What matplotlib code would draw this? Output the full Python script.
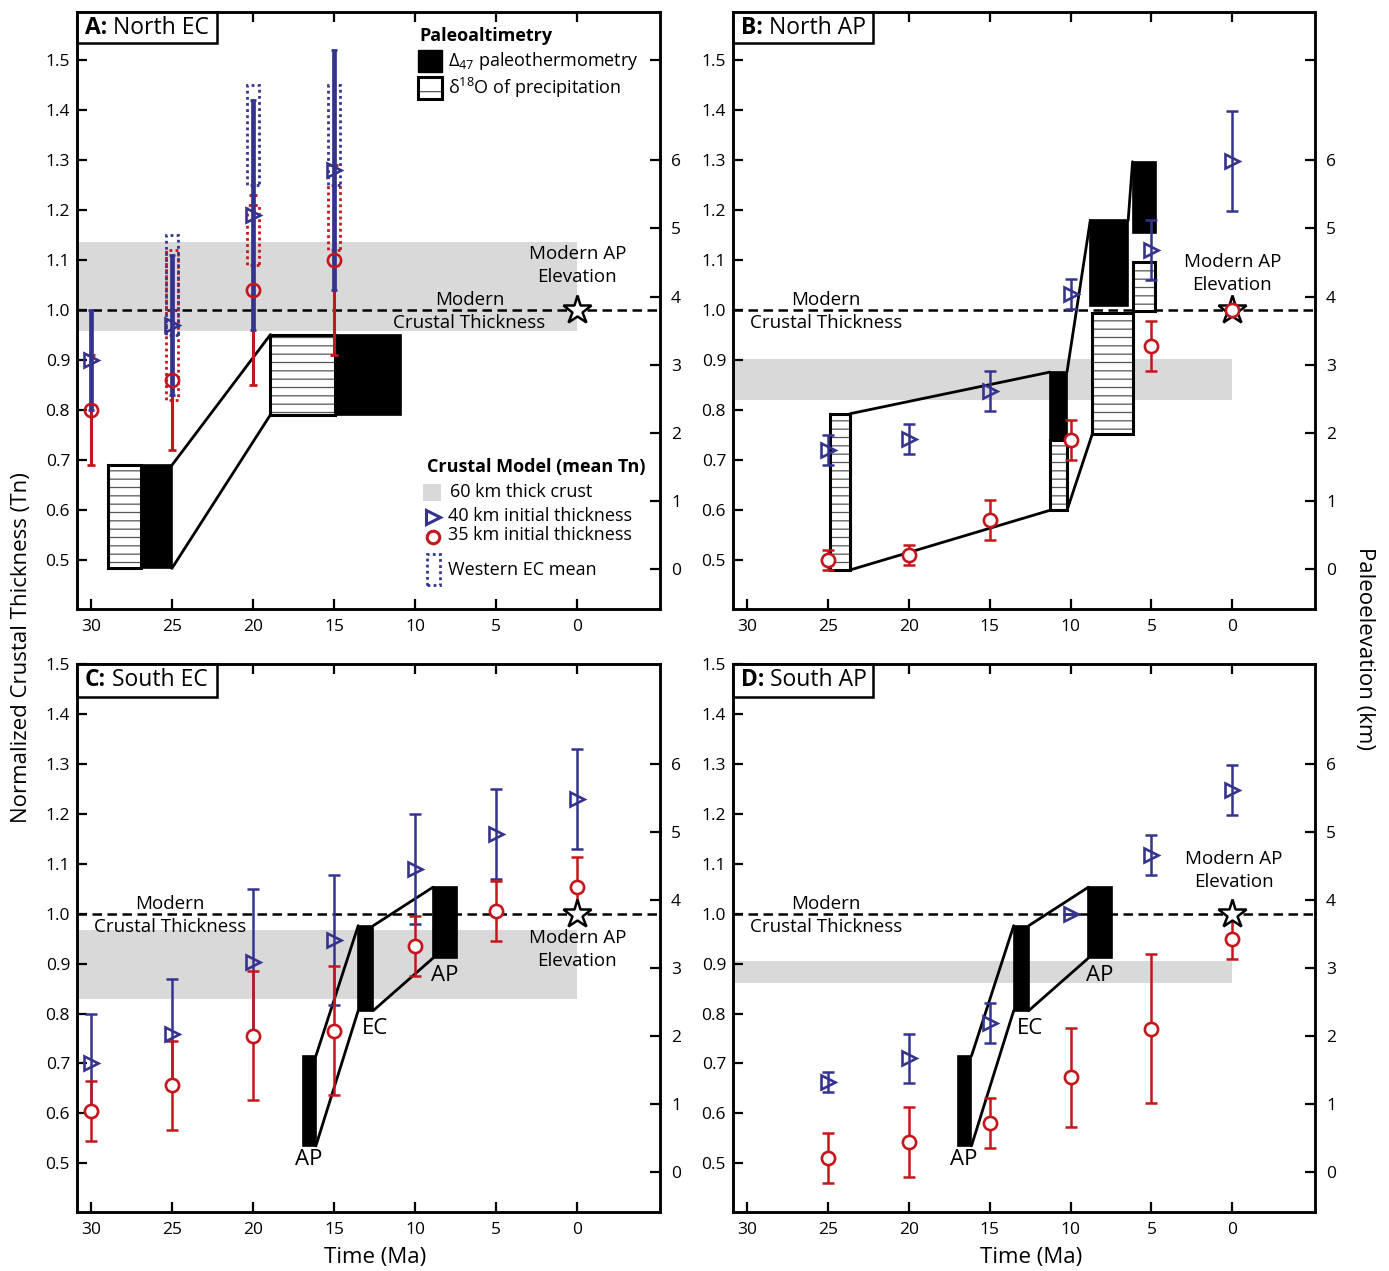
import matplotlib
matplotlib.use('Agg')
import matplotlib.pyplot as plt
from matplotlib.patches import Rectangle

plt.rcParams['font.family'] = ['Open Sans', 'DejaVu Sans']
plt.rcParams['mathtext.fontset'] = 'custom'
plt.rcParams['mathtext.rm'] = 'Open Sans'
plt.rcParams['mathtext.it'] = 'Open Sans:italic'
plt.rcParams['mathtext.bf'] = 'Open Sans:bold'
plt.rcParams['hatch.linewidth'] = 0.9

BLUE = '#34348f'
RED = '#c4161c'
GREY = '#d9d9d9'

# ---------------- data ----------------
time_ticks = [30, 25, 20, 15, 10, 5, 0]
tn_ticks = [0.5, 0.6, 0.7, 0.8, 0.9, 1.0, 1.1, 1.2, 1.3, 1.4, 1.5]
elev_ticks = [0, 1, 2, 3, 4, 5, 6]
ELEV0_TN = 0.482      # Tn at 0 km paleoelevation
KM_TN = 0.1362        # Tn per km paleoelevation
modern_tn = 1.0

# Panel A: North EC
a_t = [30, 25, 20, 15]
a_blue = [0.90, 0.97, 1.19, 1.28]
a_blue_err = [0.10, 0.14, 0.23, 0.24]
a_red = [0.80, 0.86, 1.04, 1.10]
a_red_err = [0.11, 0.14, 0.19, 0.19]
a_band = [0.959, 1.136]
a_west_t = [25, 20, 15]
a_west_blue_lo = [0.95, 1.25, 1.25]
a_west_blue_hi = [1.15, 1.45, 1.45]
a_west_red_lo = [0.82, 1.09, 1.12]
a_west_red_hi = [1.12, 1.21, 1.245]
a_box_left = [28.95, 26.9, 18.92, 14.92]
a_box_right = [26.9, 25.0, 14.92, 10.85]
a_box_lo = [0.484, 0.484, 0.791, 0.791]
a_box_hi = [0.690, 0.690, 0.951, 0.951]
a_box_kind = ['iso', 'clump', 'iso', 'clump']
a_link_t0 = [25.0, 25.0]
a_link_y0 = [0.690, 0.484]
a_link_t1 = [18.92, 18.92]
a_link_y1 = [0.951, 0.791]

# Panel B: North AP
b_t = [25, 20, 15, 10, 5, 0]
b_blue = [0.720, 0.742, 0.839, 1.031, 1.119, 1.298]
b_blue_err = [0.03, 0.03, 0.04, 0.03, 0.06, 0.10]
b_red = [0.500, 0.510, 0.580, 0.740, 0.929, 1.000]
b_red_err = [0.02, 0.02, 0.04, 0.04, 0.05, 0.0]
b_band = [0.821, 0.902]
b_box_left = [24.84, 11.28, 11.28, 8.78, 8.66, 6.17, 6.13]
b_box_right = [23.61, 10.22, 10.22, 6.44, 6.13, 4.71, 4.76]
b_box_lo = [0.481, 0.740, 0.600, 1.008, 0.752, 1.153, 0.999]
b_box_hi = [0.793, 0.876, 0.740, 1.179, 0.995, 1.296, 1.096]
b_box_kind = ['iso', 'clump', 'iso', 'clump', 'iso', 'clump', 'iso']
b_link_t0 = [23.61, 10.22, 6.44, 23.61, 10.22]
b_link_y0 = [0.793, 0.876, 1.179, 0.481, 0.600]
b_link_t1 = [11.28, 8.78, 6.17, 11.28, 8.66]
b_link_y1 = [0.876, 1.179, 1.296, 0.600, 0.752]

# Panel C: South EC
c_t = [30, 25, 20, 15, 10, 5, 0]
c_blue = [0.700, 0.760, 0.903, 0.947, 1.089, 1.159, 1.229]
c_blue_err = [0.10, 0.11, 0.146, 0.13, 0.11, 0.09, 0.10]
c_red = [0.605, 0.656, 0.756, 0.766, 0.936, 1.005, 1.054]
c_red_err = [0.06, 0.09, 0.13, 0.13, 0.06, 0.06, 0.06]
c_band = [0.829, 0.968]

# Panel D: South AP
d_t = [25, 20, 15, 10, 5, 0]
d_blue = [0.662, 0.710, 0.781, 1.000, 1.118, 1.248]
d_blue_err = [0.02, 0.05, 0.04, 0.0, 0.04, 0.05]
d_red = [0.511, 0.542, 0.581, 0.672, 0.770, 0.950]
d_red_err = [0.05, 0.07, 0.05, 0.10, 0.15, 0.04]
d_band = [0.861, 0.905]

# Panels C and D: clumped-isotope paleoaltimetry boxes
cd_box_left = [16.94, 13.51, 8.90]
cd_box_right = [16.12, 12.58, 7.41]
cd_box_lo = [0.535, 0.806, 0.911]
cd_box_hi = [0.715, 0.976, 1.053]
cd_box_kind = ['clump', 'clump', 'clump']
cd_box_names = ['AP', 'EC', 'AP']
cd_name_t = [16.57, 12.5, 8.2]
cd_name_y = [0.507, 0.771, 0.877]
cd_link_t0 = [16.12, 16.12, 12.58, 12.58]
cd_link_y0 = [0.715, 0.535, 0.976, 0.806]
cd_link_t1 = [13.51, 13.51, 8.90, 8.90]
cd_link_y1 = [0.976, 0.806, 1.053, 0.911]

# ---------------- figure ----------------
W, H = 1389, 1271
fig = plt.figure(figsize=(W / 100, H / 100), dpi=100)


def px_axes(l, t, r, b):
    return fig.add_axes([l / W, 1 - b / H, (r - l) / W, (b - t) / H])


axA = px_axes(77, 12, 660, 609)
axB = px_axes(733, 12, 1315, 609)
axC = px_axes(77, 664, 660, 1212)
axD = px_axes(733, 664, 1315, 1212)


def setup(ax, ylim, extra_tick):
    ax.set_xlim(30.85, -5.1)
    ax.set_ylim(*ylim)
    ax.set_xticks(time_ticks)
    ax.set_xticklabels([str(t) for t in time_ticks])
    ax.set_yticks(tn_ticks)
    ax.set_yticklabels(['%.1f' % v for v in tn_ticks])
    ax.tick_params(direction='in', length=7, width=1.6, top=True, right=False,
                   labelsize=12.5, pad=5)
    ax.tick_params(axis='x', pad=7)
    for s in ax.spines.values():
        s.set_linewidth(1.8)
    ax2 = ax.twinx()
    ax2.set_ylim((ylim[0] - ELEV0_TN) / KM_TN, (ylim[1] - ELEV0_TN) / KM_TN)
    ticks = list(elev_ticks)
    labels = [str(e) for e in elev_ticks]
    if extra_tick:
        ticks.append((1.5 - ELEV0_TN) / KM_TN)
        labels.append('')
    ax2.set_yticks(ticks)
    ax2.set_yticklabels(labels)
    ax2.tick_params(direction='in', length=7, width=1.6, labelsize=12.5, pad=8)
    for s in ax2.spines.values():
        s.set_linewidth(1.8)


def common(ax, band):
    ax.fill_between([31.5, 0], band[0], band[1], color=GREY, lw=0, zorder=1)
    ax.axhline(modern_tn, color='black', ls=(0, (3.8, 2.2)), lw=1.8, zorder=2)
    ax.plot([0], [modern_tn], ls='none', marker='*', ms=21, mfc='white',
            mec='black', mew=1.8, zorder=5.5)


def boxes(ax, left, right, lo, hi, kind):
    for l, r, a, b, k in zip(left, right, lo, hi, kind):
        if k == 'clump':
            ax.add_patch(Rectangle((r, a), l - r, b - a, fc='black', ec='black',
                                   lw=1.2, zorder=4))
        else:
            ax.add_patch(Rectangle((r, a), l - r, b - a, fc='white', ec='#555555',
                                   hatch='--', lw=0, zorder=4))
            ax.add_patch(Rectangle((r, a), l - r, b - a, fill=False, ec='black',
                                   lw=2.2, zorder=4.1))


def links(ax, t0, y0, t1, y1):
    for p, q, r, s in zip(t0, y0, t1, y1):
        ax.plot([p, r], [q, s], color='black', lw=2, zorder=3.5,
                solid_capstyle='round')


def series(ax, t, y, err, color, marker, lw, cap, z, mfc):
    ax.errorbar(t, y, yerr=err, fmt='none', ecolor=color, elinewidth=lw,
                capsize=cap, capthick=min(lw, 2.0), zorder=z)
    ax.plot(t, y, ls='none', marker=marker, ms=10.5 if marker == '>' else 9.5,
            mfc=mfc, mec=color, mew=1.9, zorder=z + 2)


def panel_label(ax, letter, name, w_px, h_px, aw, ah):
    ax.add_patch(Rectangle((0, 1 - h_px / ah), w_px / aw, h_px / ah,
                           transform=ax.transAxes, fc='white', ec='black',
                           lw=1.8, zorder=20, clip_on=False))
    t1 = ax.text(8 / aw, 1 - h_px / 2 / ah, letter, transform=ax.transAxes,
                 fontsize=16.5, fontweight='bold', va='center', ha='left', zorder=21)
    ax.annotate(' ' + name, xy=(1, 0), xycoords=t1, va='bottom', ha='left',
                fontsize=16.5, zorder=21)


def two_line(ax, x, y, top, bottom, fs=13.5):
    ax.text(x, y + 0.009, top, ha='center', va='baseline', fontsize=fs, zorder=7)
    ax.text(x, y - 0.008, bottom, ha='center', va='top', fontsize=fs, zorder=7)


# ---- Panel A ----
setup(axA, (0.403, 1.595), True)
common(axA, a_band)
for t, lo, hi in zip(a_west_t, a_west_red_lo, a_west_red_hi):
    axA.add_patch(Rectangle((t - 0.37, lo), 0.74, hi - lo, fill=False, ec=RED,
                            ls=(0, (1, 1.2)), lw=2, zorder=2.5))
for t, lo, hi in zip(a_west_t, a_west_blue_lo, a_west_blue_hi):
    axA.add_patch(Rectangle((t - 0.37, lo), 0.74, hi - lo, fill=False, ec=BLUE,
                            ls=(0, (1, 1.2)), lw=2, zorder=2.6))
links(axA, a_link_t0, a_link_y0, a_link_t1, a_link_y1)
boxes(axA, a_box_left, a_box_right, a_box_lo, a_box_hi, a_box_kind)
series(axA, a_t, a_red, a_red_err, RED, 'o', 2.2, 3, 5, 'none')
series(axA, a_t, a_blue, a_blue_err, BLUE, '>', 3.4, 2, 5.2, 'none')
axA.text(0, 1.089, 'Modern AP\nElevation', ha='center', va='center',
         fontsize=13.5, linespacing=1.35, zorder=7)
two_line(axA, 6.65, modern_tn, 'Modern', 'Crustal Thickness')
panel_label(axA, 'A:', 'North EC', 140, 31, 583, 597)

# Panel A legend (axes fraction)
tA = axA.transAxes
axA.text(0.588, 0.960, 'Paleoaltimetry', transform=tA, fontsize=13,
         fontweight='bold', va='center', ha='left')
axA.add_patch(Rectangle((0.585, 0.899), 0.041, 0.037, transform=tA,
                        fc='black', ec='black', lw=1))
axA.text(0.636, 0.918, 'Δ$_{47}$ paleothermometry', transform=tA,
         fontsize=13, va='center', ha='left')
axA.add_patch(Rectangle((0.585, 0.854), 0.041, 0.037, transform=tA,
                        fc='white', ec='#555555', hatch='-', lw=0))
axA.add_patch(Rectangle((0.585, 0.854), 0.041, 0.037, transform=tA,
                        fill=False, ec='black', lw=2.2))
axA.text(0.636, 0.873, 'δ$^{18}$O of precipitation', transform=tA,
         fontsize=13, va='center', ha='left')
axA.text(0.600, 0.238, 'Crustal Model (mean Tn)', transform=tA, fontsize=13,
         fontweight='bold', va='center', ha='left')
axA.add_patch(Rectangle((0.593, 0.181), 0.031, 0.028, transform=tA,
                        fc=GREY, lw=0))
axA.text(0.640, 0.196, '60 km thick crust', transform=tA, fontsize=13,
         va='center', ha='left')
axA.plot([0.611], [0.154], transform=tA, ls='none', marker='>', ms=10,
         mfc='none', mec=BLUE, mew=2.2, clip_on=False)
axA.text(0.636, 0.156, '40 km initial thickness', transform=tA, fontsize=13,
         va='center', ha='left')
axA.plot([0.611], [0.121], transform=tA, ls='none', marker='o', ms=9,
         mfc='none', mec=RED, mew=2.2, clip_on=False)
axA.text(0.636, 0.124, '35 km initial thickness', transform=tA, fontsize=13,
         va='center', ha='left')
axA.add_patch(Rectangle((0.600, 0.040), 0.023, 0.052, transform=tA,
                        fill=False, ec=BLUE, ls=(0, (1, 1.2)), lw=2))
axA.text(0.636, 0.065, 'Western EC mean', transform=tA, fontsize=13,
         va='center', ha='left')

# ---- Panel B ----
setup(axB, (0.403, 1.595), True)
common(axB, b_band)
links(axB, b_link_t0, b_link_y0, b_link_t1, b_link_y1)
boxes(axB, b_box_left, b_box_right, b_box_lo, b_box_hi, b_box_kind)
series(axB, b_t, b_blue, b_blue_err, BLUE, '>', 1.8, 4, 5, 'none')
series(axB, b_t, b_red, b_red_err, RED, 'o', 1.8, 4, 5.1, 'white')
two_line(axB, 25.1, modern_tn, 'Modern', 'Crustal Thickness')
axB.text(0, 1.073, 'Modern AP\nElevation', ha='center', va='center',
         fontsize=13.5, linespacing=1.35, zorder=7)
panel_label(axB, 'B:', 'North AP', 140, 31, 582, 597)

# ---- Panel C ----
setup(axC, (0.4026, 1.4986), False)
common(axC, c_band)
links(axC, cd_link_t0, cd_link_y0, cd_link_t1, cd_link_y1)
boxes(axC, cd_box_left, cd_box_right, cd_box_lo, cd_box_hi, cd_box_kind)
series(axC, c_t, c_blue, c_blue_err, BLUE, '>', 1.8, 4, 5, 'none')
series(axC, c_t, c_red, c_red_err, RED, 'o', 1.8, 4, 5.1, 'white')
for n, x, y in zip(cd_box_names, cd_name_t, cd_name_y):
    axC.text(x, y, n, ha='center', va='center', fontsize=16, zorder=7)
two_line(axC, 25.1, modern_tn, 'Modern', 'Crustal Thickness')
axC.text(0, 0.928, 'Modern AP\nElevation', ha='center', va='center',
         fontsize=13.5, linespacing=1.35, zorder=7)
panel_label(axC, 'C:', 'South EC', 140, 33, 583, 548)

# ---- Panel D ----
setup(axD, (0.4026, 1.4986), False)
common(axD, d_band)
links(axD, cd_link_t0, cd_link_y0, cd_link_t1, cd_link_y1)
boxes(axD, cd_box_left, cd_box_right, cd_box_lo, cd_box_hi, cd_box_kind)
series(axD, d_t, d_blue, d_blue_err, BLUE, '>', 1.8, 4, 5, 'none')
series(axD, d_t, d_red, d_red_err, RED, 'o', 1.8, 4, 5.1, 'white')
for n, x, y in zip(cd_box_names, cd_name_t, cd_name_y):
    axD.text(x, y, n, ha='center', va='center', fontsize=16, zorder=7)
two_line(axD, 25.1, modern_tn, 'Modern', 'Crustal Thickness')
axD.text(-0.1, 1.086, 'Modern AP\nElevation', ha='center', va='center',
         fontsize=13.5, linespacing=1.35, zorder=7)
panel_label(axD, 'D:', 'South AP', 140, 33, 582, 548)

# ---- figure labels ----
fig.text(22 / W, 1 - 648 / H, 'Normalized Crustal Thickness (Tn)', rotation=90,
         ha='center', va='center', fontsize=16)
fig.text(1365 / W, 1 - 648 / H, 'Paleoelevation (km)', rotation=270,
         ha='center', va='center', fontsize=16)
fig.text(375 / W, 1 - 1258 / H, 'Time (Ma)', ha='center', va='center', fontsize=16)
fig.text(1031 / W, 1 - 1258 / H, 'Time (Ma)', ha='center', va='center', fontsize=16)

fig.savefig('out.png', dpi=100)
